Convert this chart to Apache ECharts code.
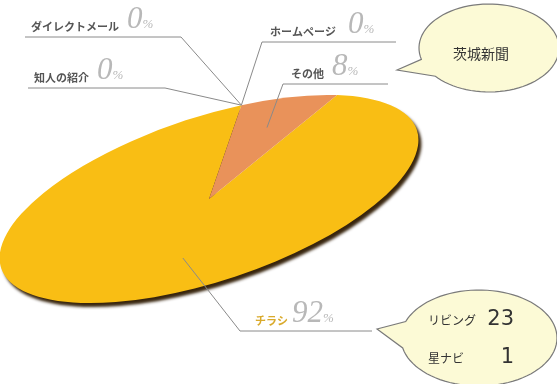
<!DOCTYPE html>
<html>
<head>
<meta charset="utf-8">
<script src="https://cdn.jsdelivr.net/npm/echarts@6/dist/echarts.min.js"></script>
<style>
html, body { margin: 0; padding: 0; background: #fff; }
#main { width: 557px; height: 384px; }
</style>
</head>
<body>
<div id="main"></div>
<script>
// データ
var categories = ['ダイレクトメール', '知人の紹介', 'ホームページ', 'その他', 'チラシ'];
var percents = [0, 0, 0, 8, 92];
var newspaperNames = ['茨城新聞'];
var magazineNames = ['リビング', '星ナビ'];
var magazineCounts = [23, 1];

// 傾いた楕円の円グラフ
var CX = 209, CY = 199, RA = 219, RB = 82, TILT = 18.4, START = 74;
var sliceColors = ['#e9925a', '#e9925a', '#e9925a', '#e9925a', '#f9be14'];
var toRad = Math.PI / 180;

// ラベル位置 (テキスト左端, 下線のy, 下線の両端, 引き出し線の端, スライス内の位置)
var labelLayout = [
    {x: 31, y: 37, x0: 25, x1: 181, end: 'right', t: 0, r: 1, color: '#555', gap: 8},
    {x: 34, y: 88, x0: 28, x1: 165, end: 'right', t: 0, r: 1, color: '#555', gap: 8},
    {x: 270, y: 42, x0: 262, x1: 396, end: 'left', t: 0, r: 1, color: '#555', gap: 12},
    {x: 291, y: 84, x0: 283, x1: 388, end: 'left', t: 0.5, r: 0.7, color: '#555', gap: 8},
    {x: 255, y: 331, x0: 240, x1: 372, end: 'left', t: 0.465, r: 0.615, color: '#d9aa2c', gap: 4}
];

var total = 0;
percents.forEach(function (v) { total += v; });
var sliceData = [];
var acc = 0;
percents.forEach(function (v, i) {
    sliceData.push([i, acc / total, (acc + v) / total]);
    acc += v;
});

function ellipsePoint(frac, r) {
    var phi = (START - frac * 360) * toRad;
    var u = RA * r * Math.cos(phi), v = RB * r * Math.sin(phi);
    var ct = Math.cos(TILT * toRad), st = Math.sin(TILT * toRad);
    return [CX + u * ct - v * st, CY - (u * st + v * ct)];
}

function renderSlice(params, api) {
    var i = api.value(0), s = api.value(1), e = api.value(2);
    if (e <= s) {
        return;
    }
    var big = i == categories.length - 1;
    return {
        type: 'sector',
        x: CX,
        y: CY,
        rotation: TILT * toRad,
        scaleY: RB / RA,
        z2: big ? 1 : 2,
        shape: {
            cx: 0, cy: 0, r0: 0, r: RA,
            startAngle: -(START - s * 360) * toRad,
            endAngle: -(START - e * 360) * toRad,
            clockwise: true
        },
        style: big ? {
            fill: sliceColors[i],
            shadowBlur: 3,
            shadowOffsetX: 3,
            shadowOffsetY: 4,
            shadowColor: 'rgba(45,25,0,0.95)'
        } : {fill: sliceColors[i]}
    };
}

function bubblePoints(cx, cy, rx, ry, a0, a1, tip) {
    var pts = [tip];
    for (var a = a0; a <= a1 + 360; a += 4) {
        pts.push([cx + rx * Math.cos(a * toRad), cy + ry * Math.sin(a * toRad)]);
    }
    pts.push([cx + rx * Math.cos((a1 + 360) * toRad), cy + ry * Math.sin((a1 + 360) * toRad)]);
    return pts;
}

var graphics = [];

// ラベルと引き出し線
categories.forEach(function (name, i) {
    var L = labelLayout[i];
    var s = sliceData[i][1], e = sliceData[i][2];
    var p = ellipsePoint(s + L.t * (e - s), L.r);
    var near = L.end == 'right' ? L.x1 : L.x0;
    var far = L.end == 'right' ? L.x0 : L.x1;
    graphics.push({
        type: 'polyline',
        z: 10,
        shape: {points: [[far, L.y], [near, L.y], p]},
        style: {stroke: '#8a8a8a', lineWidth: 1, fill: null}
    });
    graphics.push({
        type: 'text',
        z: 10,
        x: L.x,
        y: L.y - 2,
        style: {
            text: '{n|' + name + '}{p|' + percents[i] + '}{u|%}',
            verticalAlign: 'bottom',
            textVerticalAlign: 'bottom',
            rich: {
                n: {fontSize: 11, fontWeight: 'bold', fill: L.color, verticalAlign: 'bottom',
                    fontFamily: 'Noto Sans CJK JP', padding: [0, 0, 3, 0]},
                p: {fontSize: 31, fontStyle: 'italic', fill: '#b8b8b8', verticalAlign: 'bottom',
                    fontFamily: 'Liberation Serif', padding: [0, 0, 0, L.gap]},
                u: {fontSize: 13, fontStyle: 'italic', fill: '#b8b8b8', verticalAlign: 'bottom',
                    fontFamily: 'Liberation Serif', padding: [0, 0, 4, 0]}
            }
        }
    });
});

// 吹き出し (新聞)
graphics.push({
    type: 'polygon',
    z: 5,
    shape: {points: bubblePoints(489, 48, 70, 44, 165, 140, [397, 70])},
    style: {fill: '#fcfad6', stroke: '#7a7a7a', lineWidth: 1.2}
});
graphics.push({
    type: 'text',
    z: 6,
    x: 481,
    y: 54,
    style: {
        text: newspaperNames.join('\n'),
        fontSize: 14,
        fontFamily: 'Noto Sans CJK JP',
        fill: '#333',
        align: 'center',
        verticalAlign: 'middle',
        textAlign: 'center',
        textVerticalAlign: 'middle'
    }
});

// 吹き出し (雑誌)
graphics.push({
    type: 'polygon',
    z: 5,
    shape: {points: bubblePoints(479, 338, 78, 48, 200, 168, [377, 329])},
    style: {fill: '#fcfad6', stroke: '#7a7a7a', lineWidth: 1.2}
});
magazineNames.forEach(function (name, i) {
    var y = 320 + i * 38;
    graphics.push({
        type: 'text', z: 6, x: 428, y: y,
        style: {
            text: name, fontSize: 12, fontFamily: 'Noto Sans CJK JP', fill: '#333',
            verticalAlign: 'middle', textVerticalAlign: 'middle'
        }
    });
    graphics.push({
        type: 'text', z: 6, x: 514, y: y,
        style: {
            text: String(magazineCounts[i]), fontSize: 21, fontFamily: 'DejaVu Sans', fill: '#333',
            align: 'right', textAlign: 'right', verticalAlign: 'middle', textVerticalAlign: 'middle'
        }
    });
});

var chart = echarts.init(document.getElementById('main'));
chart.setOption({
    animation: false,
    backgroundColor: '#fff',
    series: [{
        type: 'custom',
        coordinateSystem: 'none',
        renderItem: renderSlice,
        data: sliceData
    }],
    graphic: graphics
});
</script>
</body>
</html>
